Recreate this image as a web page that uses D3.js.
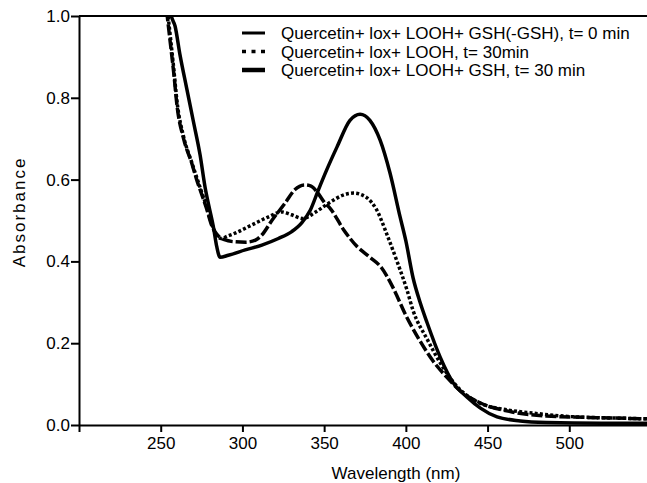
<!DOCTYPE html>
<html>
<head>
<meta charset="utf-8">
<script src="https://cdn.jsdelivr.net/npm/d3@7"></script>
<style>
  body { margin: 0; background: #fff; }
  svg { display: block; font-family: "Liberation Sans", Arial, sans-serif; }
  .axis text { font-size: 17px; fill: #000; }
  .axis line, .axis path { stroke: #000; stroke-width: 2px; }
</style>
</head>
<body>
<svg class="spectrum"></svg>
<script>
// legend labels, in the order they appear top to bottom
const seriesLabels = [
  "Quercetin+ lox+ LOOH+ GSH(-GSH), t= 0 min",
  "Quercetin+ lox+ LOOH, t= 30min",
  "Quercetin+ lox+ LOOH+ GSH, t= 30 min"
];

// [wavelength nm, absorbance]
const gshT0 = [
  [250, 1.15], [254, 1.0], [256, 0.93], [258, 0.86], [260, 0.78], [264, 0.70],
  [269, 0.64], [272, 0.60], [275, 0.565], [278, 0.53], [281, 0.49], [284, 0.468],
  [289, 0.453], [295, 0.448], [302, 0.447], [308, 0.452], [312, 0.465], [318, 0.50],
  [326, 0.542], [332, 0.575], [338, 0.587], [342, 0.584], [346, 0.568], [350, 0.545],
  [354, 0.528], [362, 0.477], [370, 0.437], [378, 0.41], [385, 0.385], [392, 0.337],
  [400, 0.268], [408, 0.21], [416, 0.16], [425, 0.117], [435, 0.078], [445, 0.055],
  [465, 0.032], [486, 0.022], [517, 0.018], [550, 0.015]
];

const noGshT30 = [
  [250, 1.15], [254.5, 1.0], [258, 0.87], [260, 0.79], [264, 0.705], [269, 0.642],
  [275, 0.57], [278, 0.535], [281, 0.495], [284, 0.465], [287, 0.456], [291, 0.462],
  [295.5, 0.469], [305.7, 0.489], [316, 0.509], [324, 0.521], [330, 0.514], [337, 0.505],
  [344.5, 0.52], [353, 0.543], [361.6, 0.562], [368, 0.567], [376, 0.556], [382, 0.527],
  [388.5, 0.465], [394.6, 0.40], [400.7, 0.33], [404.4, 0.28], [413, 0.21], [421, 0.152],
  [429, 0.105], [445, 0.054], [462, 0.037], [478, 0.029], [499, 0.021], [527, 0.017],
  [550, 0.015]
];

const gshT30 = [
  [252, 1.15], [256.5, 1.0], [258.8, 0.975], [261.8, 0.905], [265.9, 0.823], [270, 0.742],
  [274.1, 0.66], [277.2, 0.58], [279.5, 0.535], [282.2, 0.485], [284.3, 0.436], [286.3, 0.41],
  [291.4, 0.415], [301.7, 0.428], [311.9, 0.44], [322, 0.456], [330.2, 0.473], [336.4, 0.495],
  [341.5, 0.525], [346.5, 0.575], [351.7, 0.625], [357.9, 0.68], [365.8, 0.745], [372, 0.76],
  [378, 0.745], [384.2, 0.697], [390.3, 0.616], [396.4, 0.51], [400, 0.45], [404.4, 0.36],
  [408.7, 0.30], [413, 0.25], [421, 0.166], [429, 0.103], [437.5, 0.068], [445.4, 0.042],
  [455.8, 0.02], [470, 0.01], [486, 0.006], [520, 0.004], [550, 0.004]
];

const xTicks = [200, 250, 300, 350, 400, 450, 500];
const yTicks = [0, 0.2, 0.4, 0.6, 0.8, 1.0];

const margin = {top: 16, left: 79};
var width = 572;
var height = 409;

var svg = d3.select(".spectrum")
  .attr("width", 647)
  .attr("height", 483);

var g = svg.append("g")
  .attr("transform", "translate(" + margin.left + "," + margin.top + ")");

const xScale = d3.scaleLinear()
  .domain([200, 550])
  .range([0, width]);

const yScale = d3.scaleLinear()
  .domain([0, 1.0])
  .range([height, 0]);

g.append("clipPath")
  .attr("id", "plot-clip")
  .append("rect")
  .attr("x", 0)
  .attr("y", 0)
  .attr("width", width)
  .attr("height", height + 4);

// top frame line
g.append("line")
  .attr("x1", 0)
  .attr("x2", width)
  .attr("y1", 0)
  .attr("y2", 0)
  .attr("stroke", "#000")
  .attr("stroke-width", 2);

g.append("g")
  .attr("class", "axis")
  .attr("transform", "translate(0," + height + ")")
  .call(d3.axisBottom(xScale)
    .tickValues(xTicks)
    .tickSize(7)
    .tickSizeOuter(0)
    .tickPadding(5)
    .tickFormat(d => d == 200 ? "" : d));

g.append("g")
  .attr("class", "axis")
  .call(d3.axisLeft(yScale)
    .tickValues(yTicks)
    .tickSize(8)
    .tickSizeOuter(0)
    .tickPadding(1)
    .tickFormat(d3.format(".1f")));

svg.append("text")
  .attr("x", 396)
  .attr("y", 479)
  .attr("text-anchor", "middle")
  .style("font-size", "17px")
  .text("Wavelength (nm)");

svg.append("text")
  .attr("transform", "translate(25,212) rotate(-90)")
  .attr("text-anchor", "middle")
  .style("font-size", "17px")
  .style("letter-spacing", "2px")
  .text("Absorbance");

var line = d3.line()
  .x(d => xScale(d[0]))
  .y(d => yScale(d[1]))
  .curve(d3.curveMonotoneX);

// series styles: dashed, dotted, solid
var allSeries = [
  [gshT0, "11,3", "butt"],
  [noGshT30, "3,2.2", "butt"],
  [gshT30, null, "round"]
];

var plot = g.append("g").attr("clip-path", "url(#plot-clip)");

allSeries.forEach(set => {
  plot.append("path")
    .datum(set[0])
    .attr("d", line)
    .attr("fill", "none")
    .attr("stroke", "#000")
    .attr("stroke-width", 3.5)
    .attr("stroke-linejoin", "round")
    .attr("stroke-linecap", set[2])
    .attr("stroke-dasharray", set[1]);
});

// legend
var legendDash = [null, "4,5.5", null];
var legendWidth = [3, 3.5, 4.5];
seriesLabels.forEach((label, i) => {
  var y = 33 + i * 18.5;
  svg.append("line")
    .attr("x1", 242)
    .attr("x2", 265)
    .attr("y1", y)
    .attr("y2", y)
    .attr("stroke", "#000")
    .attr("stroke-width", legendWidth[i])
    .attr("stroke-dasharray", legendDash[i]);
  svg.append("text")
    .attr("x", 281)
    .attr("y", y + 6)
    .style("font-size", "17px")
    .text(label);
});
</script>
</body>
</html>
